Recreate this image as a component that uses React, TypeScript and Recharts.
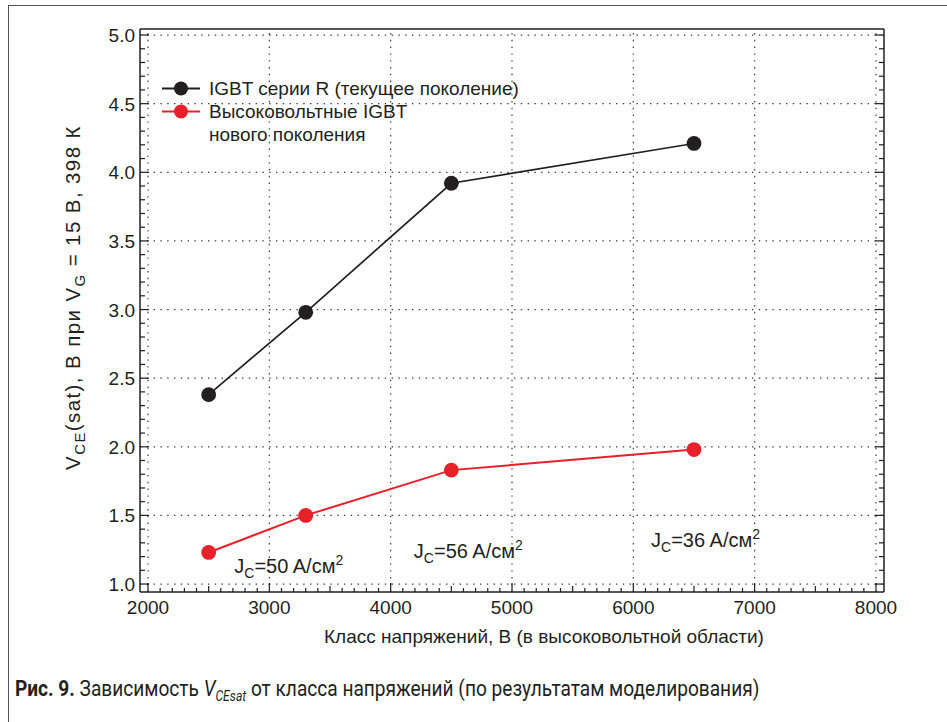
import React from 'react'
import { Legend, Line, LineChart, ReferenceDot, ReferenceLine, XAxis, YAxis } from 'recharts'

// Рис. 9: V_CE(sat) в зависимости от класса напряжений
const voltages = [2500, 3300, 4500, 6500]
const seriesR = [2.38, 2.98, 3.92, 4.21]
const seriesHV = [1.23, 1.5, 1.83, 1.98]
const seriesNames = ['IGBT серии R (текущее поколение)', 'Высоковольтные IGBT\nнового поколения']

const xMajor = [2000, 3000, 4000, 5000, 6000, 7000, 8000]
const yMajor = [1.0, 1.5, 2.0, 2.5, 3.0, 3.5, 4.0, 4.5, 5.0]

const jcText = ['50', '56', '36']
const jcAt = [3160, 4640, 6595]
const jcLevel = [1.08, 1.19, 1.27]

const xTicks: number[] = []
for (let v = 2000; v <= 8000; v += 100) xTicks.push(v)
const yTicks: number[] = []
for (let i = 10; i <= 50; i++) yTicks.push(i / 10)

const X_DOMAIN = [1934, 8066]
const Y_DOMAIN = [0.942, 5.044]

const INK = '#231f20'
const RED = '#e8202a'
const GRID = '#3a3a3a'
const FONT = '"Liberation Sans", Arial, sans-serif'

const data = voltages.map((v, i) => ({ v, r: seriesR[i], hv: seriesHV[i] }))

function XTick(props: any) {
  const { x, y, payload, side } = props
  const v = payload.value
  const len = v % 1000 === 0 ? 9 : v % 500 === 0 ? 6 : 4
  const dir = side === 'bottom' ? -1 : 1
  return (
    <g>
      <line x1={x} x2={x} y1={y} y2={y + dir * len} stroke={INK} strokeWidth={1.2} />
      {side === 'bottom' && v % 1000 === 0 && (
        <text x={x} y={y + 22} textAnchor="middle" fontSize={19} fill={INK}>
          {v}
        </text>
      )}
    </g>
  )
}

function YTick(props: any) {
  const { x, y, payload, side } = props
  const v = payload.value
  const major = Math.round(v * 10) % 5 === 0
  const len = major ? 9 : 5
  const dir = side === 'left' ? 1 : -1
  return (
    <g>
      <line x1={x} x2={x + dir * len} y1={y} y2={y} stroke={INK} strokeWidth={1.2} />
      {side === 'left' && major && (
        <text x={x - 5} y={y + 7} textAnchor="end" fontSize={19} fill={INK}>
          {v.toFixed(1)}
        </text>
      )}
    </g>
  )
}

function YTitle({ viewBox }: any) {
  const cx = viewBox.x - 59
  const cy = viewBox.y + viewBox.height / 2 - 13
  return (
    <text
      x={cx}
      y={cy}
      transform={`rotate(-90 ${cx} ${cy})`}
      textAnchor="middle"
      fontSize={20.5}
      fill={INK}
      style={{ letterSpacing: 1.4 }}
    >
      V<tspan fontSize={15} dy={5}>CE</tspan>
      <tspan dy={-5}>(sat), В при V</tspan>
      <tspan fontSize={15} dy={5}>G</tspan>
      <tspan dy={-5}> = 15 В, 398 К</tspan>
    </text>
  )
}

function XTitle({ viewBox }: any) {
  return (
    <text
      x={viewBox.x + viewBox.width / 2 + 32}
      y={viewBox.y + 51}
      textAnchor="middle"
      fontSize={19}
      fill={INK}
    >
      Класс напряжений, В (в высоковольтной области)
    </text>
  )
}

function JcLabel({ cx, cy, value }: any) {
  return (
    <text x={cx} y={cy} textAnchor="middle" fontSize={20} fill={INK}>
      J<tspan fontSize={14} dy={5}>C</tspan>
      <tspan dy={-5}>={value} A/см</tspan>
      <tspan fontSize={14} dy={-8}>2</tspan>
    </text>
  )
}

const renderLegend = (props: any) => (
  <div style={{ fontFamily: FONT, fontSize: 19, color: INK, lineHeight: '23px' }}>
    {props.payload.map((e: any) => (
      <div key={e.value} style={{ display: 'flex', alignItems: 'flex-start' }}>
        <svg width={38} height={23} style={{ flex: 'none', marginRight: 9 }}>
          <line x1={0} x2={38} y1={11.5} y2={11.5} stroke={e.color} strokeWidth={2} />
          <circle cx={19} cy={11.5} r={7} fill={e.color} />
        </svg>
        <span style={{ whiteSpace: 'pre-line' }}>{e.value}</span>
      </div>
    ))}
  </div>
)

export default function App() {
  return (
    <div style={{ position: 'relative', width: 947, height: 722, overflow: 'hidden', background: '#fff', fontFamily: FONT }}>
      <style>{'body{margin:0}'}</style>
      <div
        style={{
          position: 'absolute',
          left: 8,
          top: 5,
          width: 960,
          height: 740,
          borderLeft: '1.5px solid #555',
          borderTop: '1.5px solid #555',
        }}
      />
      <div style={{ position: 'absolute', left: 0, top: 0 }}>
        <LineChart width={947} height={722} data={data} margin={{ top: 28, right: 62, bottom: 129, left: 139 }}>
          <XAxis
            dataKey="v"
            type="number"
            domain={X_DOMAIN}
            allowDataOverflow
            ticks={xTicks}
            interval={0}
            height={1}
            tickLine={false}
            tickSize={0}
            tickMargin={0}
            axisLine={{ stroke: INK, strokeWidth: 1.5 }}
            tick={(p: any) => <XTick {...p} side="bottom" />}
            label={{ content: (p: any) => <XTitle viewBox={p.viewBox} /> }}
          />
          <XAxis
            xAxisId="top"
            orientation="top"
            type="number"
            domain={X_DOMAIN}
            allowDataOverflow
            ticks={xTicks}
            interval={0}
            height={1}
            tickLine={false}
            tickSize={0}
            tickMargin={0}
            axisLine={{ stroke: INK, strokeWidth: 1.5 }}
            tick={(p: any) => <XTick {...p} side="top" />}
          />
          <YAxis
            type="number"
            domain={Y_DOMAIN}
            allowDataOverflow
            ticks={yTicks}
            interval={0}
            width={1}
            tickLine={false}
            tickSize={0}
            tickMargin={0}
            axisLine={{ stroke: INK, strokeWidth: 1.5 }}
            tick={(p: any) => <YTick {...p} side="left" />}
            label={{ content: (p: any) => <YTitle viewBox={p.viewBox} /> }}
          />
          <YAxis
            yAxisId="right"
            orientation="right"
            type="number"
            domain={Y_DOMAIN}
            allowDataOverflow
            ticks={yTicks}
            interval={0}
            width={1}
            tickLine={false}
            tickSize={0}
            tickMargin={0}
            axisLine={{ stroke: INK, strokeWidth: 1.5 }}
            tick={(p: any) => <YTick {...p} side="right" />}
          />
          {xMajor.map((v) => (
            <ReferenceLine key={'gx' + v} x={v} stroke={GRID} strokeWidth={1.2} strokeDasharray="1.4 5.4" />
          ))}
          {yMajor.map((v) => (
            <ReferenceLine key={'gy' + v} y={v} stroke={GRID} strokeWidth={1.2} strokeDasharray="1.4 5.4" />
          ))}
          {jcText.map((t, i) => (
            <ReferenceDot
              key={'jc' + i}
              x={jcAt[i]}
              y={jcLevel[i]}
              r={0}
              shape={(p: any) => <JcLabel cx={p.cx} cy={p.cy} value={t} />}
            />
          ))}
          <Legend
            layout="vertical"
            align="center"
            verticalAlign="middle"
            wrapperStyle={{ top: 77, left: 162, width: 'auto' }}
            content={renderLegend}
          />
          <Line
            dataKey="r"
            name={seriesNames[0]}
            stroke={INK}
            strokeWidth={1.7}
            dot={{ r: 7.4, fill: INK, stroke: INK, strokeWidth: 0 }}
            activeDot={false}
            isAnimationActive={false}
          />
          <Line
            dataKey="hv"
            name={seriesNames[1]}
            stroke={RED}
            strokeWidth={2}
            dot={{ r: 7.4, fill: RED, stroke: RED, strokeWidth: 0 }}
            activeDot={false}
            isAnimationActive={false}
          />
        </LineChart>
      </div>
      <div
        style={{
          position: 'absolute',
          left: 15,
          top: 676,
          fontFamily: 'Roboto, sans-serif',
          fontSize: 22,
          color: INK,
          whiteSpace: 'nowrap',
          transform: 'scaleX(0.868)',
          transformOrigin: 'left top',
        }}
      >
        <b>Рис. 9.</b> Зависимость{' '}
        <i>
          V<sub style={{ fontSize: 14 }}>CEsat</sub>
        </i>{' '}
        от класса напряжений (по результатам моделирования)
      </div>
    </div>
  )
}
